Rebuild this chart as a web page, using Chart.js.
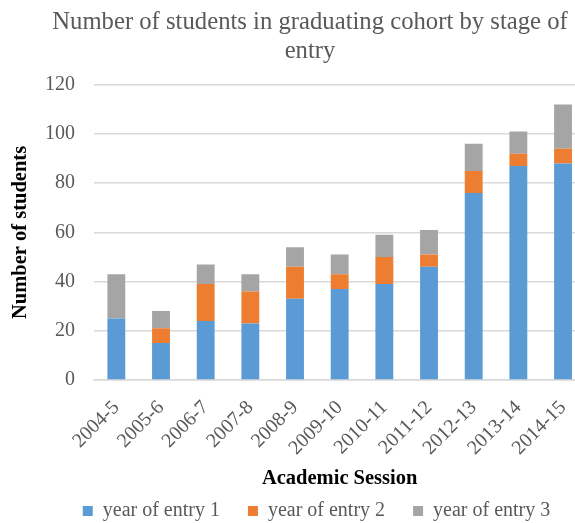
<!DOCTYPE html>
<html>
<head>
<meta charset="utf-8">
<script src="https://cdn.jsdelivr.net/npm/chart.js@4/dist/chart.umd.min.js"></script>
<style>
  html, body { margin: 0; padding: 0; background: #fff; overflow: hidden; }
  #wrap { position: relative; width: 596px; height: 523px; }
</style>
</head>
<body>
<div id="wrap"><canvas id="c"></canvas></div>
<script>
// Academic sessions and students per stage of entry
const sessions = ['2004-5','2005-6','2006-7','2007-8','2008-9','2009-10','2010-11','2011-12','2012-13','2013-14','2014-15'];
const entryYear1 = [25, 15, 24, 23, 33, 37, 39, 46, 76, 87, 88];
const entryYear2 = [0, 6, 15, 13, 13, 6, 11, 5, 9, 5, 6];
const entryYear3 = [18, 7, 8, 7, 8, 8, 9, 10, 11, 9, 18];
const yTicks = [0, 20, 40, 60, 80, 100, 120];

const serif = "'Liberation Serif', 'Times New Roman', serif";
const grey = '#595959';

const barStyle = { barPercentage: 0.4, categoryPercentage: 1.0, borderWidth: 0 };

// Title and legend are centred on the chart's outer frame, which is wider
// than the visible window; the legend row sits just under the axis title.
const frameCentre = {
  id: 'frameCentre',
  afterLayout(chart) {
    const t = chart.titleBlock;
    if (t) { t.left = 0; t.right = 620; t.width = 620; }
    const lg = chart.legend;
    if (lg) {
      lg.left = 43; lg.right = 590; lg.width = 547;
      lg.top = 473; lg.bottom = 523; lg.height = 50;
    }
  }
};

new Chart(document.getElementById('c'), {
  type: 'bar',
  data: {
    labels: sessions,
    datasets: [
      { label: 'year of entry 1', data: entryYear1, backgroundColor: '#5b9bd5', ...barStyle },
      { label: 'year of entry 2', data: entryYear2, backgroundColor: '#ed7d31', ...barStyle },
      { label: 'year of entry 3', data: entryYear3, backgroundColor: '#a5a5a5', ...barStyle }
    ]
  },
  plugins: [frameCentre],
  options: {
    responsive: true,
    maintainAspectRatio: false,
    animation: false,
    layout: { padding: { left: 0, right: 0, top: 8, bottom: 0 } },
    plugins: {
      title: {
        display: true,
        text: ['Number of students in graduating cohort by stage of', 'entry'],
        color: grey,
        font: { family: serif, size: 24.7, weight: 'normal', lineHeight: 1.17 },
        padding: { top: 0, bottom: 19 },
        align: 'center',
        fullSize: true
      },
      legend: {
        position: 'bottom',
        maxHeight: 35,
        labels: {
          color: grey,
          font: { family: serif, size: 20 },
          boxWidth: 10,
          boxHeight: 10,
          padding: 28
        }
      },
      tooltip: { enabled: false }
    },
    scales: {
      x: {
        stacked: true,
        afterFit: (scale) => { scale.height = 108; },
        grid: { display: false, drawTicks: false },
        border: { display: true, color: '#d9d9d9', width: 1.5 },
        ticks: {
          color: grey,
          font: { family: serif, size: 20 },
          minRotation: 45,
          maxRotation: 45,
          padding: 16
        },
        title: {
          display: true,
          text: 'Academic Session',
          color: '#000',
          font: { family: serif, size: 20.5, weight: 'bold', lineHeight: 1.2 },
          padding: { top: 0, bottom: -3 }
        }
      },
      y: {
        stacked: true,
        min: 0,
        max: 120,
        afterBuildTicks: (scale) => { scale.ticks = yTicks.map(v => ({ value: v })); },
        afterFit: (scale) => { scale.width = 94; },
        grid: { color: '#d9d9d9', lineWidth: 1.5, drawTicks: false },
        border: { display: false },
        ticks: {
          color: grey,
          font: { family: serif, size: 20 },
          padding: 19
        },
        title: {
          display: true,
          text: 'Number of students',
          color: '#000',
          font: { family: serif, size: 20.5, weight: 'bold', lineHeight: 1.2 },
          padding: { top: 8, bottom: 0 }
        }
      }
    }
  }
});
</script>
</body>
</html>
